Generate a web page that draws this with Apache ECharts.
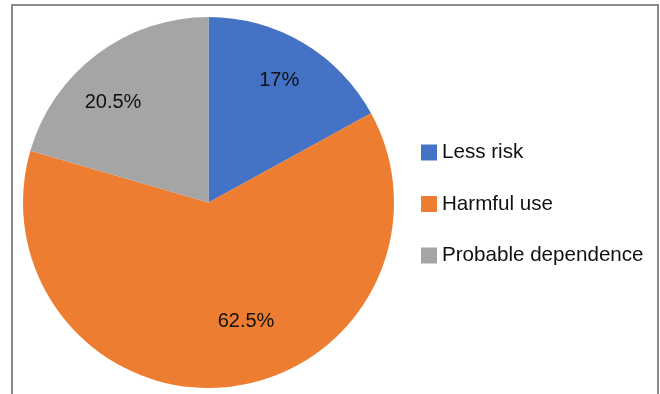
<!DOCTYPE html>
<html>
<head>
<meta charset="utf-8">
<script src="https://cdn.jsdelivr.net/npm/echarts@6/dist/echarts.min.js"></script>
<style>
  html, body { margin: 0; padding: 0; background: #fff; }
  #frame {
    position: absolute; left: 11px; top: 4px; width: 644px; height: 400px;
    border: 2px solid #8a8a8a; border-bottom: none;
  }
  #chart { position: absolute; left: 0; top: 0; width: 660px; height: 394px; }
</style>
</head>
<body>
<div id="frame"></div>
<div id="chart"></div>
<script>
const categories = ["Less risk", "Harmful use", "Probable dependence"];
const values = [17, 62.5, 20.5];
const colors = ["#4472C4", "#ED7D31", "#A5A5A5"];
// nudge the inside labels to where the original sits them
const labelOffsets = [[22, -40], [27, 24], [-38, -23]];

const chart = echarts.init(document.getElementById("chart"));

const option = {
  animation: false,
  legend: {
    orient: "vertical",
    left: 416,
    top: 137,
    itemWidth: 16,
    itemHeight: 16,
    itemGap: 30.5,
    icon: "rect",
    data: categories,
    textStyle: {
      fontFamily: "Liberation Sans, Arial, sans-serif",
      fontSize: 20.6,
      lineHeight: 20,
      color: "#111",
    },
  },
  series: [
    {
      type: "pie",
      center: [208.5, 202.5],
      radius: [0, 185.5],
      startAngle: 90,
      clockwise: true,
      emphasis: { disabled: true },
      itemStyle: { borderWidth: 0 },
      label: {
        position: "inside",
        fontFamily: "Liberation Sans, Arial, sans-serif",
        fontSize: 20,
        color: "#111",
        formatter: (p) => p.value + "%",
      },
      labelLine: { show: false },
      data: categories.map((name, i) => ({
        name: name,
        value: values[i],
        itemStyle: { color: colors[i] },
        label: { offset: labelOffsets[i] },
      })),
    },
  ],
};

chart.setOption(option);
</script>
</body>
</html>
